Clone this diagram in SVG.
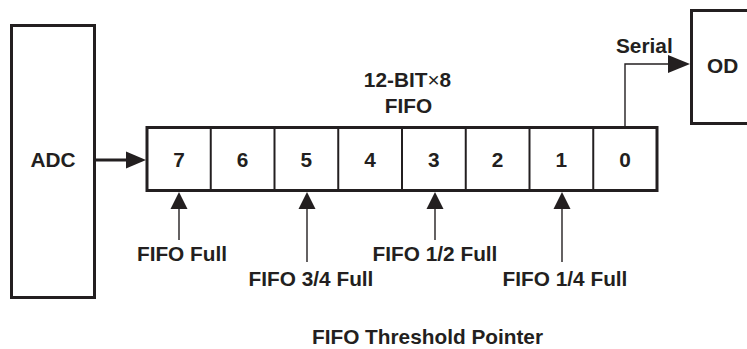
<svg xmlns="http://www.w3.org/2000/svg" width="747" height="349" viewBox="0 0 747 349">
<style>
text{font-family:"Liberation Sans",Arial,sans-serif;font-weight:bold;font-size:20.8px;fill:#231f20}
.x{font-weight:normal}
.box{fill:#fff;stroke:#231f20;stroke-width:3}
.div{stroke:#231f20;stroke-width:2}
.thin{stroke:#231f20;stroke-width:1.4;fill:none}
.thick{stroke:#231f20;stroke-width:3;fill:none}
.head{fill:#231f20}
</style>
<rect width="747" height="349" fill="#fff"/>
<g id="adc">
<rect class="box" x="11.5" y="25.5" width="83" height="272"/>
<text x="53" y="167" text-anchor="middle">ADC</text>
</g>
<g id="od">
<rect class="box" x="691.5" y="10.5" width="60" height="113"/>
<text x="707" y="73">OD</text>
</g>
<g id="fifo">
<rect class="box" x="147" y="127.5" width="510" height="63"/>
<g class="div">
<line x1="210.75" y1="128" x2="210.75" y2="190"/>
<line x1="274.5" y1="128" x2="274.5" y2="190"/>
<line x1="338.25" y1="128" x2="338.25" y2="190"/>
<line x1="402" y1="128" x2="402" y2="190"/>
<line x1="465.75" y1="128" x2="465.75" y2="190"/>
<line x1="529.5" y1="128" x2="529.5" y2="190"/>
<line x1="593.25" y1="128" x2="593.25" y2="190"/>
</g>
<g text-anchor="middle">
<text x="179" y="167">7</text>
<text x="242.6" y="167">6</text>
<text x="306.4" y="167">5</text>
<text x="370.1" y="167">4</text>
<text x="433.9" y="167">3</text>
<text x="497.6" y="167">2</text>
<text x="561.4" y="167">1</text>
<text x="625.1" y="167">0</text>
</g>
<text x="407.5" y="87" text-anchor="middle">12-BIT<tspan class="x">×</tspan>8</text>
<text x="408.5" y="113" text-anchor="middle">FIFO</text>
</g>
<g id="connectors">
<line class="thick" x1="95" y1="160" x2="128" y2="160"/>
<polygon class="head" points="146,160 126,151.5 126,168.5"/>
<polyline class="thin" points="625,127 625,64 670,64"/>
<polygon class="head" points="690,64 668,55 668,73"/>
<text x="616" y="53">Serial</text>
<line class="thin" x1="179" y1="207" x2="179" y2="240"/>
<polygon class="head" points="179,192 170.5,209 187.5,209"/>
<line class="thin" x1="307" y1="207" x2="307" y2="262"/>
<polygon class="head" points="307,192 298.5,209 315.5,209"/>
<line class="thin" x1="435" y1="207" x2="435" y2="240"/>
<polygon class="head" points="435,192 426.5,209 443.5,209"/>
<line class="thin" x1="562" y1="207" x2="562" y2="262"/>
<polygon class="head" points="562,192 553.5,209 570.5,209"/>
</g>
<g id="labels" text-anchor="middle">
<text x="182" y="261">FIFO Full</text>
<text x="311" y="286">FIFO 3/4 Full</text>
<text x="435" y="261">FIFO 1/2 Full</text>
<text x="565" y="286">FIFO 1/4 Full</text>
<text x="427.5" y="344">FIFO Threshold Pointer</text>
</g>
</svg>
